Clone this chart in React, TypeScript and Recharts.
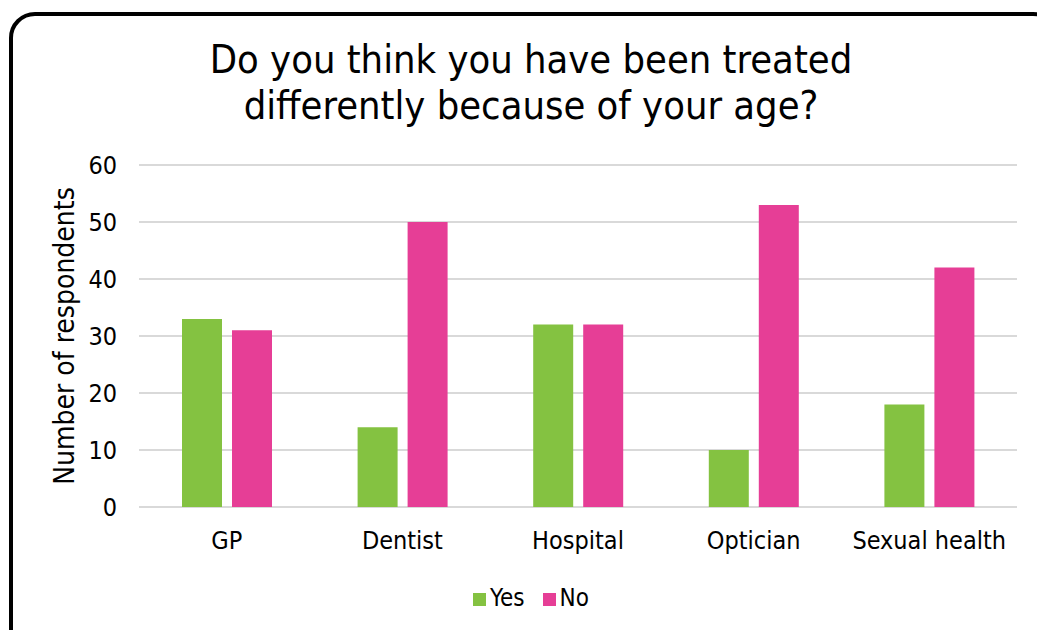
import { BarChart, Bar, XAxis, YAxis, CartesianGrid, Legend } from 'recharts';

const categories = ['GP', 'Dentist', 'Hospital', 'Optician', 'Sexual health'];
const yesValues = [33, 14, 32, 10, 18];
const noValues = [31, 50, 32, 53, 42];
const yTicks = [0, 10, 20, 30, 40, 50, 60];
const seriesOrder = ['Yes', 'No'];

const data = categories.map((name, i) => ({ name, Yes: yesValues[i], No: noValues[i] }));

const FONT = '"DejaVu Sans Condensed", "DejaVu Sans", sans-serif';

export default function App() {
  return (
    <div
      style={{
        position: 'fixed',
        left: 0,
        top: 0,
        width: 1037,
        height: 630,
        overflow: 'hidden',
        background: '#fff',
        fontFamily: FONT,
      }}
    >
      {/* rounded frame, runs off the right and bottom edges */}
      <div
        style={{
          position: 'absolute',
          left: 9,
          top: 12,
          width: 1050,
          height: 660,
          border: '4px solid #000',
          borderRadius: 26,
          boxSizing: 'border-box',
        }}
      />
      <div
        style={{
          position: 'absolute',
          left: 0,
          top: 36,
          width: 1062,
          textAlign: 'center',
          fontSize: 39.5,
          lineHeight: '46px',
          color: '#000',
        }}
      >
        Do you think you have been treated
        <br />
        differently because of your age?
      </div>
      <div style={{ position: 'absolute', left: 0, top: 0 }}>
        <BarChart
          width={1037}
          height={630}
          data={data}
          margin={{ top: 165, right: 20, bottom: 0, left: 99 }}
          barSize={40}
          barGap={10}
        >
          <CartesianGrid vertical={false} stroke="#d9d9d9" strokeWidth={2} />
          <XAxis
            dataKey="name"
            axisLine={false}
            tickLine={false}
            tickSize={0}
            tickMargin={24}
            height={95}
            tick={{ fill: '#000', fontSize: 25, fontFamily: FONT }}
          />
          <YAxis
            domain={[0, 60]}
            ticks={yTicks}
            axisLine={false}
            tickLine={false}
            tickSize={0}
            tickMargin={22}
            width={40}
            tick={{ fill: '#000', fontSize: 25, fontFamily: FONT }}
            label={{
              value: 'Number of respondents',
              angle: -90,
              position: 'insideLeft',
              offset: -35,
              style: { textAnchor: 'middle', fill: '#000', fontSize: 28, fontFamily: FONT },
            }}
          />
          <Legend
            verticalAlign="bottom"
            align="center"
            iconType="square"
            iconSize={13}
            itemSorter={(item) => seriesOrder.indexOf(String(item.value))}
            wrapperStyle={{ bottom: 18, left: 81, fontSize: 24, fontFamily: FONT }}
            formatter={(value) => (
              <span style={{ color: '#000', paddingRight: 8 }}>{value}</span>
            )}
          />
          <Bar dataKey="Yes" fill="#84c241" isAnimationActive={false} />
          <Bar dataKey="No" fill="#e63e96" isAnimationActive={false} />
        </BarChart>
      </div>
    </div>
  );
}
